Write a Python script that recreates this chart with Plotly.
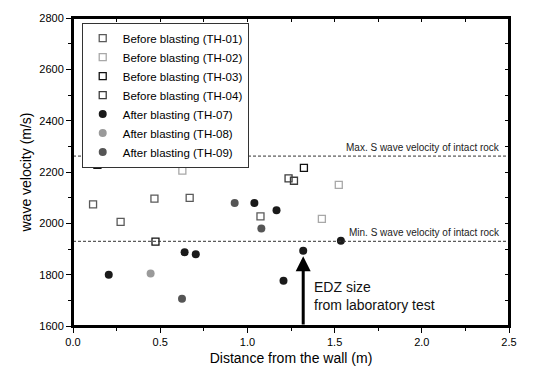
import plotly.graph_objects as go

# ---- data ----
th01_x = [0.115, 0.273, 0.467, 0.669, 1.075]
th01_y = [2074, 2006, 2096, 2099, 2027]
th02_x = [0.627, 1.427, 1.524]
th02_y = [2205, 2017, 2150]
th03_x = [0.14, 0.473, 0.749, 1.324]
th03_y = [2228, 1929, 2262, 2216]
th04_x = [0.809, 0.856, 1.236, 1.267]
th04_y = [2257, 2234, 2175, 2166]
th07_x = [0.205, 0.64, 0.704, 1.04, 1.167, 1.207, 1.32, 1.536]
th07_y = [1800, 1887, 1880, 2079, 2051, 1776, 1893, 1932]
th08_x = [0.445]
th08_y = [1805]
th09_x = [0.625, 0.927, 1.08]
th09_y = [1706, 2079, 1980]

max_vs = 2262
min_vs = 1930
edz_x = 1.32

font = "Liberation Sans, Arial, sans-serif"

fig = go.Figure()

def sq(x, y, name, color):
    fig.add_trace(go.Scatter(x=x, y=y, mode="markers", name=name,
                             marker=dict(symbol="square-open", size=7, color=color,
                                         line=dict(width=1.3, color=color))))

def ci(x, y, name, color):
    fig.add_trace(go.Scatter(x=x, y=y, mode="markers", name=name,
                             marker=dict(symbol="circle", size=8, color=color,
                                         line=dict(width=0))))

sq(th01_x, th01_y, "Before blasting (TH-01)", "#5a5a5a")
sq(th02_x, th02_y, "Before blasting (TH-02)", "#a8a8a8")
sq(th03_x, th03_y, "Before blasting (TH-03)", "#111111")
sq(th04_x, th04_y, "Before blasting (TH-04)", "#3c3c3c")
ci(th07_x, th07_y, "After blasting (TH-07)", "#1a1a1a")
ci(th08_x, th08_y, "After blasting (TH-08)", "#9a9a9a")
ci(th09_x, th09_y, "After blasting (TH-09)", "#555555")

# invisible trace for top/right tick axes
fig.add_trace(go.Scatter(x=[0, 2.5], y=[1600, 2800], xaxis="x2", yaxis="y2", mode="markers",
                         marker=dict(opacity=0), showlegend=False, hoverinfo="skip"))

for yv in (max_vs, min_vs):
    fig.add_shape(type="line", xref="x", yref="y", x0=0, x1=2.5, y0=yv, y1=yv,
                  line=dict(color="#333333", width=1, dash="3px,2px"))

# plot frame
fig.add_shape(type="rect", xref="paper", yref="paper", x0=0, x1=1, y0=0, y1=1,
              line=dict(color="black", width=2), fillcolor="rgba(0,0,0,0)", layer="above")

fig.add_annotation(x=2.46, y=max_vs, xref="x", yref="y", text="Max. S wave velocity of intact rock",
                   showarrow=False, xanchor="right", yanchor="bottom", yshift=1,
                   font=dict(family=font, size=10, color="#222"))
fig.add_annotation(x=2.46, y=min_vs, xref="x", yref="y", text="Min. S wave velocity of intact rock",
                   showarrow=False, xanchor="right", yanchor="bottom", yshift=1,
                   font=dict(family=font, size=10, color="#222"))

# arrow
fig.add_annotation(x=edz_x, y=1872, ax=edz_x, ay=1600, xref="x", yref="y", axref="x", ayref="y",
                   text="", showarrow=True, arrowhead=2, arrowsize=1, arrowwidth=3, arrowcolor="black")
fig.add_annotation(x=edz_x + 0.05, y=1718, xref="x", yref="y",
                   text="EDZ size<br>from laboratory test", showarrow=False,
                   xanchor="left", yanchor="middle", align="left",
                   font=dict(family=font, size=14, color="#111"))

fig.update_layout(
    width=551, height=380,
    margin=dict(l=73, r=42, t=12, b=54),
    plot_bgcolor="white", paper_bgcolor="white",
    font=dict(family=font, size=11, color="black"),
    xaxis=dict(range=[0, 2.5], tickvals=[0, 0.5, 1.0, 1.5, 2.0, 2.5],
               ticktext=["0.0", "0.5", "1.0", "1.5", "2.0", "2.5"], ticks="outside",
               ticklen=5, tickcolor="black",
               minor=dict(dtick=0.25, tick0=0, ticks="outside", ticklen=3, tickcolor="black"),
               title=dict(text="Distance from the wall (m)", font=dict(size=14), standoff=6),
               showline=True, linecolor="black", linewidth=2, mirror=True,
               showgrid=False, zeroline=False),
    yaxis=dict(range=[1600, 2800], dtick=200, ticks="outside", ticklen=5, tickcolor="black",
               minor=dict(dtick=100, ticks="outside", ticklen=3, tickcolor="black"),
               title=dict(text="wave velocity (m/s)", font=dict(size=14), standoff=4),
               showline=True, linecolor="black", linewidth=2, mirror=True,
               showgrid=False, zeroline=False),
    xaxis2=dict(overlaying="x", side="top", anchor="y", range=[0, 2.5], dtick=0.25, tick0=0,
                ticks="inside", ticklen=4, tickcolor="black", showticklabels=False,
                showline=False, showgrid=False, zeroline=False),
    yaxis2=dict(overlaying="y", side="right", anchor="x", range=[1600, 2800], dtick=100,
                ticks="inside", ticklen=4, tickcolor="black", showticklabels=False,
                showline=False, showgrid=False, zeroline=False),
    legend=dict(x=0.02, y=0.985, xanchor="left", yanchor="top", bgcolor="white",
                bordercolor="#333", borderwidth=1, font=dict(size=11.5, family=font),
                tracegroupgap=0, itemsizing="trace"),
    showlegend=True,
)

fig.write_html("out.html")
